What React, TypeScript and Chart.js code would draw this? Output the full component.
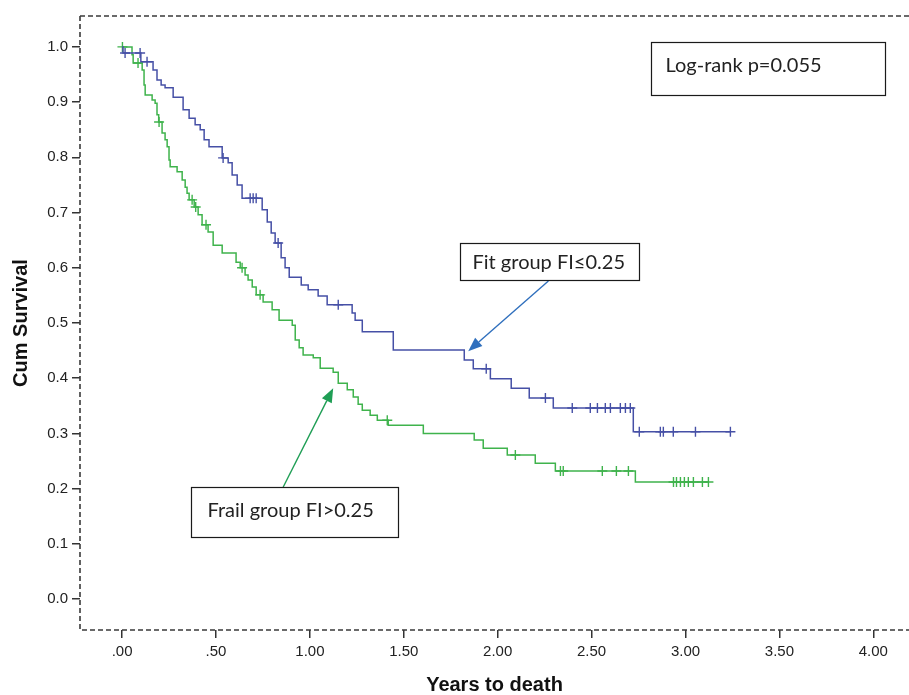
import React, { useEffect, useRef } from 'react';
import { Chart, registerables } from 'chart.js';

Chart.register(...registerables);

// ---- axis ticks ----
const xTickValues = [0, 0.5, 1, 1.5, 2, 2.5, 3, 3.5, 4];
const xTickLabels = ['.00', '.50', '1.00', '1.50', '2.00', '2.50', '3.00', '3.50', '4.00'];
const yTickValues = [0, 0.1, 0.2, 0.3, 0.4, 0.5, 0.6, 0.7, 0.8, 0.9, 1.0];
const yTickLabels = ['0.0', '0.1', '0.2', '0.3', '0.4', '0.5', '0.6', '0.7', '0.8', '0.9', '1.0'];

// ---- Fit group (FI<=0.25): event times (years) and survival after each step ----
const fitTimes = [0, 0.005, 0.10, 0.165, 0.186, 0.208, 0.229, 0.272, 0.325, 0.357, 0.389, 0.416, 0.437, 0.463, 0.533, 0.565, 0.586, 0.613, 0.639, 0.746, 0.773, 0.794, 0.815, 0.847, 0.868, 0.890, 0.954, 0.991, 1.044, 1.092, 1.225, 1.241, 1.279, 1.444, 1.822, 1.870, 1.961, 2.072, 2.168, 2.296, 2.722];
const fitSurv = [1.0, 0.989, 0.973, 0.958, 0.940, 0.931, 0.926, 0.909, 0.886, 0.871, 0.859, 0.850, 0.832, 0.819, 0.799, 0.790, 0.768, 0.750, 0.726, 0.705, 0.683, 0.663, 0.645, 0.618, 0.600, 0.583, 0.569, 0.560, 0.549, 0.533, 0.518, 0.505, 0.484, 0.451, 0.433, 0.417, 0.399, 0.382, 0.364, 0.346, 0.303];
const fitCensored = [0.016, 0.096, 0.133, 0.538, 0.682, 0.698, 0.714, 0.831, 1.151, 1.939, 2.254, 2.397, 2.493, 2.531, 2.573, 2.600, 2.653, 2.680, 2.706, 2.754, 2.866, 2.882, 2.935, 3.053, 3.239];

// ---- Frail group (FI>0.25) ----
const frailTimes = [0, 0.053, 0.059, 0.107, 0.117, 0.123, 0.160, 0.176, 0.186, 0.195, 0.213, 0.229, 0.240, 0.250, 0.256, 0.293, 0.320, 0.336, 0.346, 0.357, 0.384, 0.405, 0.426, 0.458, 0.485, 0.533, 0.607, 0.629, 0.655, 0.671, 0.693, 0.714, 0.751, 0.799, 0.836, 0.906, 0.922, 0.943, 0.964, 1.018, 1.055, 1.124, 1.151, 1.199, 1.231, 1.257, 1.279, 1.321, 1.359, 1.417, 1.604, 1.875, 1.923, 2.051, 2.200, 2.307, 2.733];
const frailSurv = [1.0, 0.986, 0.971, 0.958, 0.931, 0.913, 0.904, 0.898, 0.877, 0.864, 0.844, 0.832, 0.819, 0.795, 0.783, 0.774, 0.759, 0.746, 0.735, 0.723, 0.710, 0.696, 0.678, 0.665, 0.641, 0.627, 0.610, 0.600, 0.587, 0.578, 0.565, 0.551, 0.538, 0.524, 0.505, 0.496, 0.469, 0.455, 0.442, 0.437, 0.418, 0.411, 0.391, 0.379, 0.366, 0.353, 0.342, 0.333, 0.324, 0.315, 0.300, 0.288, 0.273, 0.261, 0.246, 0.232, 0.212];
const frailCensored = [0.002, 0.085, 0.197, 0.373, 0.392, 0.447, 0.639, 0.735, 1.412, 2.094, 2.334, 2.349, 2.557, 2.632, 2.696, 2.936, 2.952, 2.973, 2.994, 3.015, 3.042, 3.090, 3.122];

const BLUE = '#4650a6';
const GREEN = '#3fb34c';
const ARROW_BLUE = '#2f6fbd';
const ARROW_GREEN = '#1f9e55';

function survAt(times: number[], surv: number[], t: number) {
  let s = surv[0];
  for (let i = 0; i < times.length; i++) if (times[i] <= t) s = surv[i];
  return s;
}

function curvePoints(times: number[], surv: number[], censored: number[]) {
  const pts = times.map((t, i) => ({ x: t, y: surv[i] }));
  const end = Math.max(...censored);
  pts.push({ x: end, y: survAt(times, surv, end) });
  return pts;
}

function censorPoints(times: number[], surv: number[], censored: number[]) {
  return censored.map((t) => ({ x: t, y: survAt(times, surv, t) }));
}

const framePlugin = {
  id: 'frame',
  afterDraw(chart: any) {
    const { ctx, chartArea } = chart;
    const { left, top, right, bottom } = chartArea;
    ctx.save();
    ctx.strokeStyle = '#3a3a3a';
    ctx.lineWidth = 1.6;
    ctx.setLineDash([5, 3]);
    ctx.beginPath();
    ctx.moveTo(left, top);
    ctx.lineTo(right, top);
    ctx.moveTo(left, top);
    ctx.lineTo(left, bottom);
    ctx.lineTo(right, bottom);
    ctx.stroke();
    ctx.restore();
  },
};

function drawArrow(ctx: CanvasRenderingContext2D, x1: number, y1: number, x2: number, y2: number, color: string) {
  const ang = Math.atan2(y2 - y1, x2 - x1);
  const L = 14;
  const W = 5.5;
  const bx = x2 - L * Math.cos(ang);
  const by = y2 - L * Math.sin(ang);
  ctx.save();
  ctx.strokeStyle = color;
  ctx.fillStyle = color;
  ctx.lineWidth = 1.4;
  ctx.beginPath();
  ctx.moveTo(x1, y1);
  ctx.lineTo(bx, by);
  ctx.stroke();
  ctx.beginPath();
  ctx.moveTo(x2, y2);
  ctx.lineTo(bx + W * Math.sin(ang), by - W * Math.cos(ang));
  ctx.lineTo(bx - W * Math.sin(ang), by + W * Math.cos(ang));
  ctx.closePath();
  ctx.fill();
  ctx.restore();
}

// annotation boxes in data coordinates: [x0, y0(top), x1, y1(bottom)]
const annBoxes = [
  { text: 'Log-rank p=0.055', box: [2.818, 1.009, 4.06, 0.913], padX: 14, baseOff: 29 },
  { text: 'Fit group FI\u22640.25', box: [1.80, 0.645, 2.75, 0.578], padX: 12, baseOff: 25 },
  { text: 'Frail group FI>0.25', box: [0.368, 0.203, 1.47, 0.112], padX: 16, baseOff: 29 },
];
const annArrows = [
  { from: [2.27, 0.576], to: [1.843, 0.449], color: ARROW_BLUE },
  { from: [0.858, 0.203], to: [1.124, 0.382], color: ARROW_GREEN },
];

const annotationPlugin = {
  id: 'annotations',
  afterDraw(chart: any) {
    const { ctx, scales } = chart;
    const sx = scales.x;
    const sy = scales.y;
    ctx.save();
    for (const a of annArrows) {
      drawArrow(
        ctx,
        sx.getPixelForValue(a.from[0]),
        sy.getPixelForValue(a.from[1]),
        sx.getPixelForValue(a.to[0]),
        sy.getPixelForValue(a.to[1]),
        a.color,
      );
    }
    for (const b of annBoxes) {
      const x0 = Math.round(sx.getPixelForValue(b.box[0])) + 0.5;
      const y0 = Math.round(sy.getPixelForValue(b.box[1])) + 0.5;
      const x1 = Math.round(sx.getPixelForValue(b.box[2])) + 0.5;
      const y1 = Math.round(sy.getPixelForValue(b.box[3])) + 0.5;
      ctx.fillStyle = '#ffffff';
      ctx.fillRect(x0, y0, x1 - x0, y1 - y0);
      ctx.strokeStyle = '#1a1a1a';
      ctx.lineWidth = 1.2;
      ctx.strokeRect(x0, y0, x1 - x0, y1 - y0);
      ctx.fillStyle = '#222222';
      ctx.font = '20px Lato';
      ctx.textBaseline = 'alphabetic';
      ctx.textAlign = 'left';
      ctx.fillText(b.text, x0 + b.padX, y0 + b.baseOff);
    }
    ctx.restore();
  },
};

export default function App() {
  const ref = useRef<HTMLCanvasElement | null>(null);

  useEffect(() => {
    if (!ref.current) return;
    const tickFont = { family: "'Liberation Sans', Arial, sans-serif", size: 15 };
    const titleFont = { family: "'Liberation Sans', Arial, sans-serif", size: 20, weight: 'bold' as const, lineHeight: 1 };

    const chart = new Chart(ref.current, {
      type: 'line',
      data: {
        datasets: [
          {
            label: 'Fit group',
            data: curvePoints(fitTimes, fitSurv, fitCensored),
            stepped: true,
            borderColor: BLUE,
            borderWidth: 1.5,
            pointRadius: 0,
            fill: false,
          },
          {
            label: 'Frail group',
            data: curvePoints(frailTimes, frailSurv, frailCensored),
            stepped: true,
            borderColor: GREEN,
            borderWidth: 1.5,
            pointRadius: 0,
            fill: false,
          },
          {
            label: 'Fit censored',
            data: censorPoints(fitTimes, fitSurv, fitCensored),
            showLine: false,
            pointStyle: 'cross',
            pointRadius: 5,
            borderColor: BLUE,
            pointBorderWidth: 1.4,
          },
          {
            label: 'Frail censored',
            data: censorPoints(frailTimes, frailSurv, frailCensored),
            showLine: false,
            pointStyle: 'cross',
            pointRadius: 5,
            borderColor: GREEN,
            pointBorderWidth: 1.4,
          },
        ],
      },
      options: {
        animation: false,
        responsive: false,
        maintainAspectRatio: false,
        layout: { autoPadding: false, padding: { top: 16, left: 0, right: 0, bottom: 0 } },
        plugins: { legend: { display: false }, tooltip: { enabled: false } },
        scales: {
          x: {
            type: 'linear',
            min: -0.224,
            max: 4.19,
            afterBuildTicks: (s: any) => {
              s.ticks = xTickValues.map((v) => ({ value: v }));
            },
            afterFit: (s: any) => {
              s.height = 65;
              s.paddingLeft = 0;
              s.paddingRight = 0;
            },
            ticks: {
              autoSkip: false,
              maxRotation: 0,
              padding: 5,
              color: '#222',
              font: tickFont,
              callback: (v: any) => xTickLabels[xTickValues.indexOf(Number(v))] ?? '',
            },
            grid: { drawOnChartArea: false, drawTicks: true, tickLength: 8, color: '#333', lineWidth: 1.5 },
            border: { display: false },
            title: { display: true, text: 'Years to death', color: '#111', font: titleFont, padding: { top: 0, bottom: 0 } },
          },
          y: {
            type: 'linear',
            min: -0.056,
            max: 1.056,
            afterBuildTicks: (s: any) => {
              s.ticks = yTickValues.map((v) => ({ value: v }));
            },
            afterFit: (s: any) => {
              s.width = 80;
              s.paddingTop = 0;
              s.paddingBottom = 0;
            },
            ticks: {
              autoSkip: false,
              padding: 4,
              color: '#222',
              font: tickFont,
              callback: (v: any) => {
                const i = yTickValues.findIndex((t) => Math.abs(t - Number(v)) < 1e-6);
                return i >= 0 ? yTickLabels[i] : '';
              },
            },
            grid: { drawOnChartArea: false, drawTicks: true, tickLength: 8, color: '#333', lineWidth: 1.5 },
            border: { display: false },
            title: { display: true, text: 'Cum Survival', color: '#111', font: titleFont, padding: { top: 11, bottom: 0 } },
          },
        },
      },
      plugins: [framePlugin, annotationPlugin],
    });
    return () => chart.destroy();
  }, []);

  return (
    <div style={{ position: 'fixed', left: 0, top: 0, width: 909, height: 695, background: '#fff' }}>
      <canvas ref={ref} width={909} height={695} style={{ display: 'block' }} />
    </div>
  );
}
